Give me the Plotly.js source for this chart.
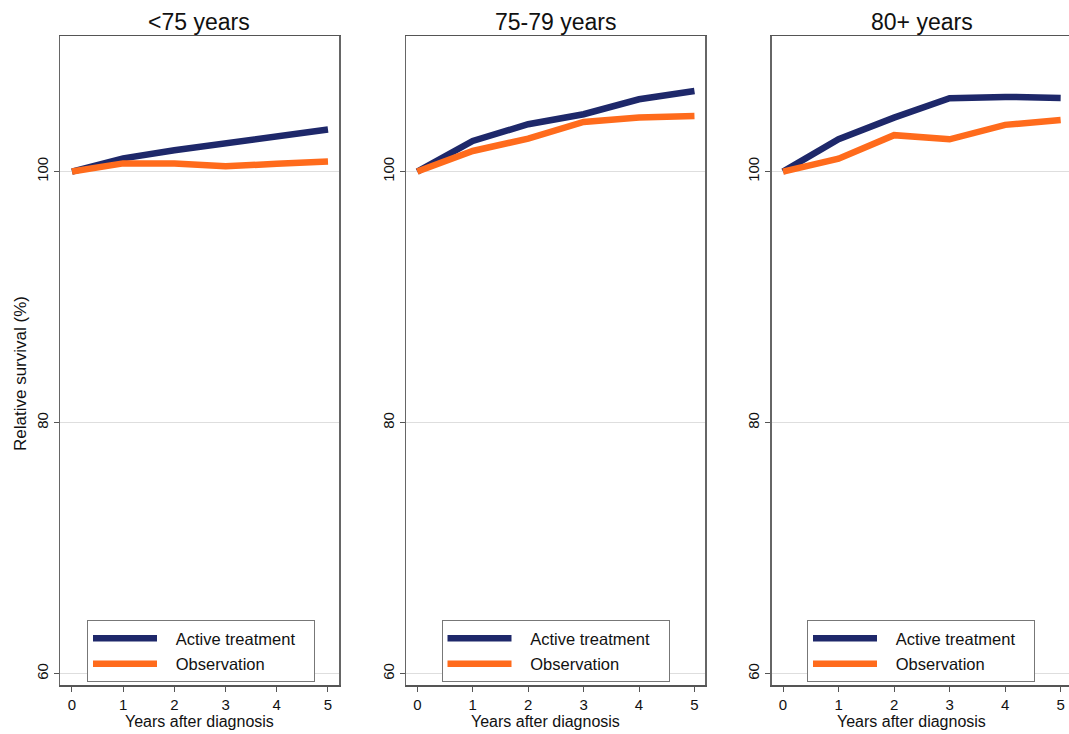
<!DOCTYPE html>
<html>
<head>
<meta charset="utf-8">
<script src="https://cdn.plot.ly/plotly-3.0.1.min.js"></script>
<style>html,body{margin:0;padding:0;background:#fff;}#chart{width:1069px;height:734px;}</style>
</head>
<body>
<div id="chart"></div>
<script>
// Data
const years = [0, 1, 2, 3, 4, 5];
const panelTitles = ["<75 years", "75-79 years", "80+ years"];
const seriesNames = ["Active treatment", "Observation"];
const active_lt75 = [100, 101.05, 101.7, 102.25, 102.7, 103.35];
const obs_lt75 = [100, 100.65, 100.65, 100.42, 100.62, 100.8];
const active_75_79 = [100, 102.44, 103.77, 104.57, 105.76, 106.42];
const obs_75_79 = [100, 101.64, 102.63, 103.95, 104.3, 104.43];
const active_80p = [100, 102.57, 104.3, 105.84, 105.95, 105.87];
const obs_80p = [100, 101.03, 102.9, 102.57, 103.72, 104.1];
const yTicks = [60, 80, 100];
const xTitle = "Years after diagnosis";
const yTitle = "Relative survival (%)";

const W = 1069, H = 734;
const FONT = "Liberation Sans, Arial, Helvetica, sans-serif";
const NAVY = "#1e286a", ORANGE = "#ff6b1c";
const PAD = "\u00a0\u00a0\u00a0";
const TAIL = "\u00a0\u00a0\u00a0";

const panels = [
  {a: active_lt75, o: obs_lt75, px: [60, 339], xr: [-0.234, 5.215], leg: 87},
  {a: active_75_79, o: obs_75_79, px: [406, 705], xr: [-0.204, 5.19], leg: 441.5},
  {a: active_80p, o: obs_80p, px: [771.7, 1069], xr: [-0.204, 5.15], leg: 807}
];
const yTopPx = 36, yBotPx = 685;

const data = [];
const layout = {
  width: W, height: H,
  margin: {l: 0, r: 0, t: 0, b: 0},
  paper_bgcolor: "#fff", plot_bgcolor: "#fff",
  font: {family: FONT, color: "#111"},
  annotations: [],
  showlegend: true
};

panels.forEach((p, i) => {
  const n = i + 1;
  const xa = "x" + (n === 1 ? "" : n), ya = "y" + (n === 1 ? "" : n);
  const lg = "legend" + (n === 1 ? "" : n);
  data.push({x: years, y: p.a, type: "scatter", mode: "lines", name: PAD + seriesNames[0] + TAIL,
    line: {color: NAVY, width: 6.5}, xaxis: xa, yaxis: ya, legend: lg, legendgroup: "a" + n, hoverinfo: "x+y"});
  data.push({x: years, y: p.o, type: "scatter", mode: "lines", name: PAD + seriesNames[1],
    line: {color: ORANGE, width: 6.5}, xaxis: xa, yaxis: ya, legend: lg, legendgroup: "o" + n, hoverinfo: "x+y"});

  layout["xaxis" + (n === 1 ? "" : n)] = {
    domain: [p.px[0] / W, Math.min(1, p.px[1] / W)],
    range: p.xr, anchor: ya,
    tickvals: years, ticks: "outside", ticklen: 5, tickwidth: 1, tickcolor: "#555",
    tickfont: {size: 15, family: FONT, color: "#111"},
    showgrid: false, zeroline: false,
    showline: true, linecolor: "#555", linewidth: 1.5, mirror: true
  };
  layout["yaxis" + (n === 1 ? "" : n)] = {
    domain: [1 - yBotPx / H, 1 - yTopPx / H],
    range: [59.1, 110.8], anchor: xa,
    tickvals: yTicks, ticktext: yTicks.map(String), tickangle: -90,
    ticks: "outside", ticklen: 5, tickwidth: 1, tickcolor: "#555",
    tickfont: {size: 15, family: FONT, color: "#111"},
    showgrid: true, gridcolor: "#dedede", gridwidth: 1, zeroline: false,
    showline: true, linecolor: "#666", linewidth: 1.5, mirror: true
  };
  layout[lg] = {
    x: p.leg / W, y: 1 - 620 / H, xanchor: "left", yanchor: "top",
    xref: "paper", yref: "paper",
    bgcolor: "#fff", bordercolor: "#777", borderwidth: 1,
    font: {size: 16.5, family: FONT, color: "#111"},
    itemwidth: 64, traceorder: "grouped", tracegroupgap: 1
  };
  const cx = (p.px[0] + (n === 3 ? 1073 : p.px[1])) / 2;
  layout.annotations.push({
    text: panelTitles[i], xref: "paper", yref: "paper",
    x: cx / W, y: 1 - 22 / H, xanchor: "center", yanchor: "middle",
    showarrow: false, font: {size: 23, family: FONT, color: "#111"}
  });
  const x0px = p.px[0] + (0 - p.xr[0]) / (p.xr[1] - p.xr[0]) * ((n === 3 ? 1069 : p.px[1]) - p.px[0]);
  layout.annotations.push({
    text: xTitle, xref: "paper", yref: "paper",
    x: (x0px + 128) / W,
    y: 1 - 721 / H, xanchor: "center", yanchor: "middle",
    showarrow: false, font: {size: 16, family: FONT, color: "#111"}
  });
});

layout.annotations.push({
  text: yTitle, xref: "paper", yref: "paper",
  x: 20 / W, y: 1 - 374 / H, xanchor: "center", yanchor: "middle", textangle: -90,
  showarrow: false, font: {size: 17, family: FONT, color: "#111"}
});

Plotly.newPlot("chart", data, layout, {displayModeBar: false, staticPlot: true});
</script>
</body>
</html>
